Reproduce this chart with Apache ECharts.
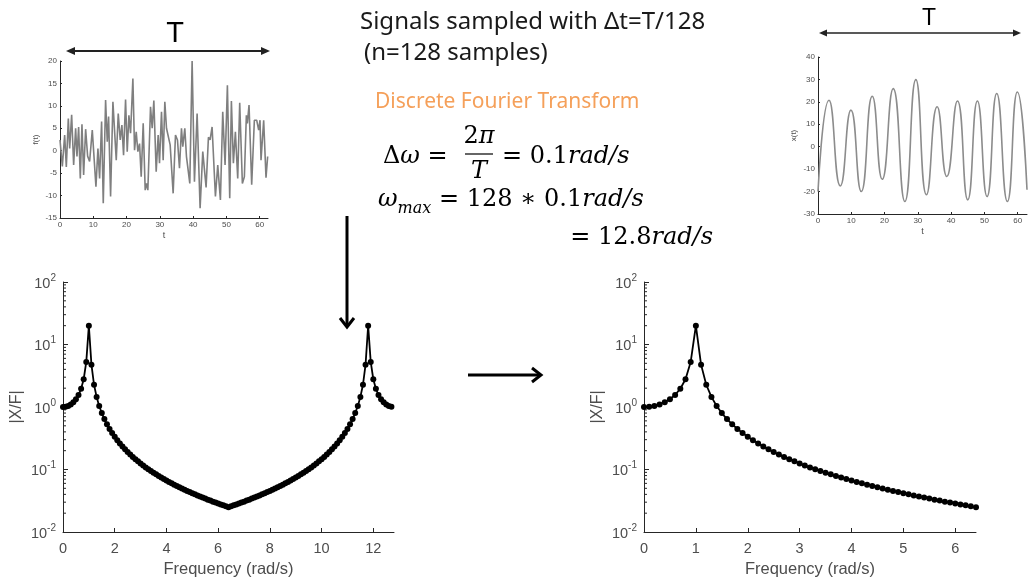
<!DOCTYPE html>
<html>
<head>
<meta charset="utf-8">
<script src="https://cdn.jsdelivr.net/npm/echarts@6/dist/echarts.min.js"></script>
<style>
html, body { margin: 0; padding: 0; background: #fff; }
#main { width: 1028px; height: 583px; }
</style>
</head>
<body>
<div id="main"></div>
<script>
// force f(t): [t, f] (peaks and troughs)
var forceData = [
    [0, 2.4], [0.7, -3.5], [1.4, 3.5], [1.9, -3.6], [2.5, 7.2], [2.9, 0.5], [3.5, 8], [4.1, -3.2],
    [4.7, 5], [5.1, -1.3], [5.6, 5.3], [6.1, -6.2], [6.6, 5.9], [7.1, -5.4], [7.7, 4.8], [8.3, -1.2],
    [8.9, -2.4], [9.7, 4.6], [10.8, -8], [11.4, 0.5], [11.9, -6.2], [12.5, 6.5], [13.0, -11.7],
    [13.7, 11.3], [14.2, 2], [14.6, 7.6], [15.2, -10.2], [15.9, 10.9], [16.9, -2.1], [17.5, 8.3],
    [18.1, 2.4], [18.6, 5.7], [19.1, -1], [19.7, 11.4], [20.2, -0.2], [20.7, 7.9], [21.2, 3.9],
    [21.9, 16.1], [22.4, 0.1], [22.9, 4.2], [23.4, -0.2], [23.9, 1.6], [24.4, -5.8], [25.0, 6.1],
    [25.6, -8.8], [26.0, -7.3], [26.4, -8.8], [27.2, 9.8], [27.7, 5], [28.2, 11.2], [28.9, -4.7],
    [29.5, 3.5], [29.9, -2.8], [30.5, 8.7], [31.0, -2.1], [31.5, 10.9], [32.0, 5], [33.1, 1.3],
    [34.0, -9.5], [34.7, 3.5], [35.3, 2.4], [35.9, -3.9], [36.5, 5], [36.9, 0.9], [37.5, 5],
    [38.0, -1.3], [39.0, -7.3], [39.7, 20], [40.4, -6.9], [41.2, 8.3], [42.1, -12.8], [42.9, -0.2],
    [43.9, -8.2], [44.6, 3], [45.1, 2.4], [45.7, 5.3], [46.7, -10.2], [47.4, -3.2], [48.2, -11],
    [48.9, 8.7], [49.6, -3.2], [50.3, 14.6], [51.0, -10.6], [51.5, 11.1], [52.1, -2.8], [52.7, 4.2],
    [53.4, -6.2], [54.0, 10.7], [54.8, -7.3], [55.4, -5.8], [56.0, 7.9], [56.3, 6.1], [56.8, 10.2],
    [57.6, -7.6], [58.4, 6.8], [59.1, 6.8], [59.7, 4.6], [60.1, 6.8], [60.4, -2.1], [61.2, 6.8],
    [61.9, -6], [62.4, -1.3]
];

// response x(t): [t, x] peaks and troughs of the top-right plot
var responseData = [
    [0, -20], [3.3, 20.7], [6.7, -17.5], [9.9, 16.3], [13.0, -20], [16.3, 22.5], [19.3, -14.5],
    [22.6, 25.9], [26.1, -24.4], [29.4, 29.9], [32.6, -21.4], [35.8, 17.8], [38.7, -13.3],
    [41.9, 20.4], [45.0, -23.7], [47.9, 20.4], [50.8, -22.2], [53.7, 23.7], [56.9, -24.4],
    [59.9, 24.4], [62.8, -19.2]
];

// |X/F| at w = 0, 0.1, ... 6.4 rad/s (bottom-right plot)
var magHalf = [
    1.00, 1.01, 1.04, 1.10, 1.19, 1.33, 1.56, 1.96, 2.78, 5.26,
    20.0, 4.76, 2.27, 1.45, 1.04, 0.80, 0.641, 0.529, 0.446, 0.383,
    0.333, 0.293, 0.260, 0.233, 0.210, 0.190, 0.174, 0.159, 0.146, 0.135,
    0.125, 0.116, 0.108, 0.101, 0.0947, 0.0889, 0.0836, 0.0788, 0.0744, 0.0704,
    0.0667, 0.0633, 0.0601, 0.0572, 0.0545, 0.0519, 0.0496, 0.0474, 0.0454, 0.0435,
    0.0417, 0.0400, 0.0384, 0.0369, 0.0355, 0.0342, 0.0329, 0.0318, 0.0306, 0.0296,
    0.0286, 0.0276, 0.0267, 0.0258, 0.0250
];
var dOmega = 0.1;
// full 128-point DFT magnitude is mirrored about 6.4 rad/s
var magFull = magHalf.concat(magHalf.slice(1, 64).reverse());

var logTicks = [0.01, 0.1, 1, 10, 100];
var minorTickVals = [];
for (var d = 0; d < logTicks.length - 1; d++) {
    for (var m = 2; m <= 9; m++) minorTickVals.push(m * logTicks[d]);
}

function toXY(arr) {
    return arr.map(function (v, k) { return [+(k * dOmega).toFixed(1), v]; });
}

var axisColor = '#262626';
var labelColor = '#4d4d4d';
var sans = 'Liberation Sans, Arial, sans-serif';

function smallX(gi, max) {
    return {
        gridIndex: gi, type: 'value', min: 0, max: max, interval: 10,
        name: 't', nameLocation: 'middle', nameGap: 13,
        nameTextStyle: { fontSize: 9, color: labelColor, fontFamily: sans },
        axisLine: { onZero: false, lineStyle: { color: axisColor, width: 1 } },
        axisTick: { inside: true, length: 2, lineStyle: { color: axisColor } },
        axisLabel: { fontSize: 8, color: labelColor, margin: 3, fontFamily: sans, showMaxLabel: false },
        splitLine: { show: false }
    };
}
function smallY(gi, min, max, interval, name) {
    return {
        gridIndex: gi, type: 'value', min: min, max: max, interval: interval,
        name: name, nameLocation: 'middle', nameGap: 20, nameRotate: 90,
        nameTextStyle: { fontSize: 8, color: labelColor, fontFamily: sans },
        axisLine: { show: true, onZero: false, lineStyle: { color: axisColor, width: 1 } },
        axisTick: { show: true, inside: true, length: 2, lineStyle: { color: axisColor } },
        axisLabel: { fontSize: 8, color: labelColor, margin: 3, fontFamily: sans },
        splitLine: { show: false }
    };
}
function freqX(gi, max, interval) {
    return {
        gridIndex: gi, type: 'value', min: 0, max: max, interval: interval,
        name: 'Frequency (rad/s)', nameLocation: 'middle', nameGap: 29,
        nameTextStyle: { fontSize: 16.5, color: labelColor, fontFamily: sans },
        axisLine: { onZero: false, lineStyle: { color: axisColor, width: 1 } },
        axisTick: { inside: true, length: 4, lineStyle: { color: axisColor } },
        axisLabel: { fontSize: 14.5, color: labelColor, margin: 9, fontFamily: sans,
            showMaxLabel: false,
            formatter: function (v) { return v > max - 0.01 ? '' : String(v); } },
        splitLine: { show: false }
    };
}
function logY(gi) {
    return {
        gridIndex: gi, type: 'log', logBase: 10, min: 0.01, max: 100, splitNumber: 4,
        name: '|X/F|', nameLocation: 'middle', nameGap: 38, nameRotate: 90,
        nameTextStyle: { fontSize: 16, color: labelColor, fontFamily: sans },
        axisLine: { show: true, onZero: false, lineStyle: { color: axisColor, width: 1 } },
        axisTick: { show: true, inside: true, length: 5, lineStyle: { color: axisColor } },
        axisLabel: {
            color: labelColor, margin: 7, fontFamily: sans,
            formatter: function (v) {
                var e = Math.round(Math.log10(v));
                return '{b|10}{s|' + e + '}';
            },
            rich: {
                b: { fontSize: 14.5, color: labelColor, fontFamily: sans, lineHeight: 18, verticalAlign: 'bottom' },
                s: { fontSize: 10, color: labelColor, fontFamily: sans, lineHeight: 18, verticalAlign: 'top' }
            }
        },
        splitLine: { show: false }
    };
}
function minorTickSeries(gi) {
    return {
        type: 'custom', xAxisIndex: gi, yAxisIndex: gi, silent: true, z: 1,
        data: minorTickVals.map(function (v) { return [0, v]; }),
        renderItem: function (params, api) {
            var p = api.coord([api.value(0), api.value(1)]);
            return {
                type: 'line',
                shape: { x1: p[0], y1: p[1], x2: p[0] + 3, y2: p[1] },
                style: { stroke: axisColor, lineWidth: 1 }
            };
        }
    };
}

var serif = 'DejaVu Serif, Liberation Serif, serif';
var eqRich = {
    u: { fontSize: 24, fontFamily: serif, fill: '#000' },
    i: { fontSize: 24, fontFamily: serif, fontStyle: 'italic', fill: '#000' },
    sub: { fontSize: 16, fontFamily: serif, fontStyle: 'italic', fill: '#000', verticalAlign: 'bottom', lineHeight: 34 }
};
var slideFont = 'Noto Sans, Lato, sans-serif';

var graphics = [
    // T arrows
    { type: 'text', style: { text: 'T', x: 175, y: 34, fontSize: 29, fontFamily: sans, fill: '#000', textAlign: 'center', textVerticalAlign: 'middle' } },
    { type: 'line', shape: { x1: 70, y1: 51, x2: 266, y2: 51 }, style: { stroke: '#222', lineWidth: 2 } },
    { type: 'polygon', shape: { points: [[66, 51], [75, 47], [75, 55]] }, style: { fill: '#222' } },
    { type: 'polygon', shape: { points: [[270, 51], [261, 47], [261, 55]] }, style: { fill: '#222' } },
    { type: 'text', style: { text: 'T', x: 929, y: 19, fontSize: 23, fontFamily: sans, fill: '#000', textAlign: 'center', textVerticalAlign: 'middle' } },
    { type: 'line', shape: { x1: 823, y1: 33, x2: 1017, y2: 33 }, style: { stroke: '#222', lineWidth: 1.5 } },
    { type: 'polygon', shape: { points: [[819, 33], [827, 29.5], [827, 36.5]] }, style: { fill: '#222' } },
    { type: 'polygon', shape: { points: [[1021, 33], [1013, 29.5], [1013, 36.5]] }, style: { fill: '#222' } },
    // heading texts
    { type: 'text', style: { text: 'Signals sampled with \u0394t=T/128', x: 360, y: 22, fontSize: 24, fontFamily: slideFont, fill: '#1a1a1a', textAlign: 'left', textVerticalAlign: 'middle' } },
    { type: 'text', style: { text: '(n=128 samples)', x: 364, y: 53, fontSize: 24, fontFamily: slideFont, fill: '#1a1a1a', textAlign: 'left', textVerticalAlign: 'middle' } },
    { type: 'text', style: { text: 'Discrete Fourier Transform', x: 375, y: 102, fontSize: 21, fontFamily: slideFont, fill: '#f5a05a', textAlign: 'left', textVerticalAlign: 'middle' } },
    // equations
    { type: 'text', style: { text: '{u|\u0394}{i|\u03c9}{u| = }', x: 383, y: 157, textAlign: 'left', textVerticalAlign: 'middle', rich: eqRich } },
    { type: 'text', style: { text: '{u|2}{i|\u03c0}', x: 479, y: 137, textAlign: 'center', textVerticalAlign: 'middle', rich: eqRich } },
    { type: 'line', shape: { x1: 465, y1: 154, x2: 493, y2: 154 }, style: { stroke: '#000', lineWidth: 1.2 } },
    { type: 'text', style: { text: '{i|T}', x: 479, y: 172, textAlign: 'center', textVerticalAlign: 'middle', rich: eqRich } },
    { type: 'text', style: { text: '{u|= 0.1}{i|rad/s}', x: 502, y: 157, textAlign: 'left', textVerticalAlign: 'middle', rich: eqRich } },
    { type: 'text', style: { text: '{i|\u03c9}{sub|max}{u| = 128 \u2217 0.1}{i|rad/s}', x: 378, y: 200, textAlign: 'left', textVerticalAlign: 'middle', rich: eqRich } },
    { type: 'text', style: { text: '{u|= 12.8}{i|rad/s}', x: 713, y: 238, textAlign: 'right', textVerticalAlign: 'middle', rich: eqRich } },
    // vertical arrow
    { type: 'line', shape: { x1: 347, y1: 216, x2: 347, y2: 325 }, style: { stroke: '#000', lineWidth: 3 } },
    { type: 'polyline', shape: { points: [[340, 318], [347, 327], [354, 318]] }, style: { stroke: '#000', lineWidth: 3, fill: null } },
    // horizontal arrow
    { type: 'line', shape: { x1: 468, y1: 375, x2: 540, y2: 375 }, style: { stroke: '#000', lineWidth: 3 } },
    { type: 'polyline', shape: { points: [[532, 368], [541, 375], [532, 382]] }, style: { stroke: '#000', lineWidth: 3, fill: null } }
];

var chart = echarts.init(document.getElementById('main'));
chart.setOption({
    animation: false,
    backgroundColor: '#fff',
    grid: [
        { left: 60, top: 61, width: 208, height: 157 },
        { left: 818, top: 57, width: 209, height: 157 },
        { left: 63, top: 282, width: 331, height: 250 },
        { left: 644, top: 282, width: 332, height: 250 }
    ],
    xAxis: [
        smallX(0, 62.5),
        smallX(1, 62.8),
        freqX(2, 12.8, 2),
        freqX(3, 6.4, 1)
    ],
    yAxis: [
        smallY(0, -15, 20, 5, 'f(t)'),
        smallY(1, -30, 40, 10, 'x(t)'),
        logY(2),
        logY(3)
    ],
    series: [
        {
            type: 'line', xAxisIndex: 0, yAxisIndex: 0, data: forceData,
            symbol: 'none', lineStyle: { color: '#7f7f7f', width: 1.6 }
        },
        {
            type: 'line', xAxisIndex: 1, yAxisIndex: 1, data: responseData, smooth: 0.55,
            symbol: 'none', lineStyle: { color: '#8c8c8c', width: 1.6 }
        },
        {
            type: 'line', xAxisIndex: 2, yAxisIndex: 2, data: toXY(magFull),
            symbol: 'circle', symbolSize: 6, itemStyle: { color: '#000' },
            lineStyle: { color: '#000', width: 1.8 }
        },
        {
            type: 'line', xAxisIndex: 3, yAxisIndex: 3, data: toXY(magHalf),
            symbol: 'circle', symbolSize: 6, itemStyle: { color: '#000' },
            lineStyle: { color: '#000', width: 1.8 }
        },
        minorTickSeries(2),
        minorTickSeries(3)
    ],
    graphic: graphics
});
</script>
</body>
</html>
